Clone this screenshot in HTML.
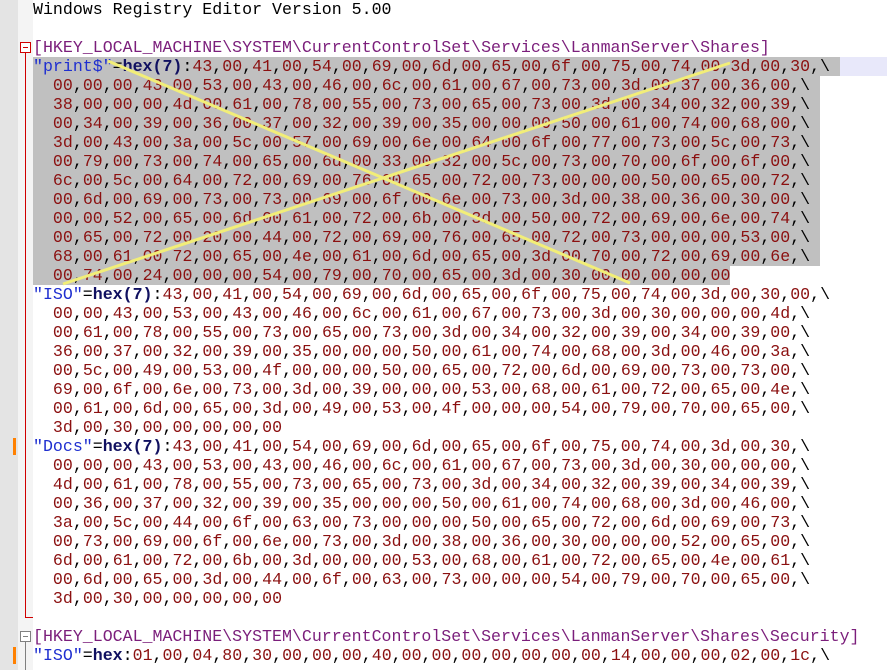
<!DOCTYPE html>
<html><head><meta charset="utf-8">
<style>
html,body{margin:0;padding:0;background:#fff;width:887px;height:670px;overflow:hidden;position:relative}
#g1{position:absolute;left:0;top:0;width:18px;height:670px;background:#e4e4e4}
#g2{position:absolute;left:18px;top:0;width:15px;height:670px;background:#f4f4f4}
#ed{position:absolute;left:33px;top:-0.5px;font-family:"Liberation Mono",monospace;font-size:16.6px;line-height:19px;white-space:pre;color:#000}
.l{height:19px;position:relative}
.k{color:#7b1e7b}.s{color:#1f2fd0}.h{color:#101060;font-weight:bold}.n{color:#8b1010}
.sel{background:#c0c0c0}
#cur{position:absolute;left:33px;top:56.5px;width:854px;height:19px;background:#e8e8fa}
.fb{position:absolute;left:20px;width:9px;height:9px;border:1px solid;background:#fff}
.fb:after{content:"";position:absolute;left:2px;top:4px;width:5px;height:1px;background:currentColor}
.or{position:absolute;left:13px;width:3px;height:17px;background:#ff8000}
</style></head><body>
<div id="g1"></div><div id="g2"></div>
<div id="cur"></div>
<div class="fb" style="top:42px;color:#d00000;border-color:#d00000"></div>
<div style="position:absolute;left:25px;top:53px;width:1px;height:565px;background:#d00000"></div>
<div style="position:absolute;left:25px;top:617px;width:8px;height:1px;background:#d00000"></div>
<div class="fb" style="top:631px;color:#808080;border-color:#808080"></div>
<div style="position:absolute;left:25px;top:642px;width:1px;height:28px;background:#808080"></div>
<div class="or" style="top:438px"></div>
<div class="or" style="top:647px"></div>
<div id="ed"></div>
<svg style="position:absolute;left:0;top:0" width="887" height="670">
<line x1="108" y1="61" x2="630" y2="283" stroke="#f2ee78" stroke-width="3"/>
<line x1="63" y1="284" x2="730" y2="63" stroke="#f2ee78" stroke-width="3"/>
</svg>
<script>
var L=[
"Windows Registry Editor Version 5.00","",
"[HKEY_LOCAL_MACHINE\\SYSTEM\\CurrentControlSet\\Services\\LanmanServer\\Shares]",
"\"print$\"=hex(7):43,00,41,00,54,00,69,00,6d,00,65,00,6f,00,75,00,74,00,3d,00,30,\\",
"  00,00,00,43,00,53,00,43,00,46,00,6c,00,61,00,67,00,73,00,3d,00,37,00,36,00,\\",
"  38,00,00,00,4d,00,61,00,78,00,55,00,73,00,65,00,73,00,3d,00,34,00,32,00,39,\\",
"  00,34,00,39,00,36,00,37,00,32,00,39,00,35,00,00,00,50,00,61,00,74,00,68,00,\\",
"  3d,00,43,00,3a,00,5c,00,57,00,69,00,6e,00,64,00,6f,00,77,00,73,00,5c,00,73,\\",
"  00,79,00,73,00,74,00,65,00,6d,00,33,00,32,00,5c,00,73,00,70,00,6f,00,6f,00,\\",
"  6c,00,5c,00,64,00,72,00,69,00,76,00,65,00,72,00,73,00,00,00,50,00,65,00,72,\\",
"  00,6d,00,69,00,73,00,73,00,69,00,6f,00,6e,00,73,00,3d,00,38,00,36,00,30,00,\\",
"  00,00,52,00,65,00,6d,00,61,00,72,00,6b,00,3d,00,50,00,72,00,69,00,6e,00,74,\\",
"  00,65,00,72,00,20,00,44,00,72,00,69,00,76,00,65,00,72,00,73,00,00,00,53,00,\\",
"  68,00,61,00,72,00,65,00,4e,00,61,00,6d,00,65,00,3d,00,70,00,72,00,69,00,6e,\\",
"  00,74,00,24,00,00,00,54,00,79,00,70,00,65,00,3d,00,30,00,00,00,00,00",
"\"ISO\"=hex(7):43,00,41,00,54,00,69,00,6d,00,65,00,6f,00,75,00,74,00,3d,00,30,00,\\",
"  00,00,43,00,53,00,43,00,46,00,6c,00,61,00,67,00,73,00,3d,00,30,00,00,00,4d,\\",
"  00,61,00,78,00,55,00,73,00,65,00,73,00,3d,00,34,00,32,00,39,00,34,00,39,00,\\",
"  36,00,37,00,32,00,39,00,35,00,00,00,50,00,61,00,74,00,68,00,3d,00,46,00,3a,\\",
"  00,5c,00,49,00,53,00,4f,00,00,00,50,00,65,00,72,00,6d,00,69,00,73,00,73,00,\\",
"  69,00,6f,00,6e,00,73,00,3d,00,39,00,00,00,53,00,68,00,61,00,72,00,65,00,4e,\\",
"  00,61,00,6d,00,65,00,3d,00,49,00,53,00,4f,00,00,00,54,00,79,00,70,00,65,00,\\",
"  3d,00,30,00,00,00,00,00",
"\"Docs\"=hex(7):43,00,41,00,54,00,69,00,6d,00,65,00,6f,00,75,00,74,00,3d,00,30,\\",
"  00,00,00,43,00,53,00,43,00,46,00,6c,00,61,00,67,00,73,00,3d,00,30,00,00,00,\\",
"  4d,00,61,00,78,00,55,00,73,00,65,00,73,00,3d,00,34,00,32,00,39,00,34,00,39,\\",
"  00,36,00,37,00,32,00,39,00,35,00,00,00,50,00,61,00,74,00,68,00,3d,00,46,00,\\",
"  3a,00,5c,00,44,00,6f,00,63,00,73,00,00,00,50,00,65,00,72,00,6d,00,69,00,73,\\",
"  00,73,00,69,00,6f,00,6e,00,73,00,3d,00,38,00,36,00,30,00,00,00,52,00,65,00,\\",
"  6d,00,61,00,72,00,6b,00,3d,00,00,00,53,00,68,00,61,00,72,00,65,00,4e,00,61,\\",
"  00,6d,00,65,00,3d,00,44,00,6f,00,63,00,73,00,00,00,54,00,79,00,70,00,65,00,\\",
"  3d,00,30,00,00,00,00,00","",
"[HKEY_LOCAL_MACHINE\\SYSTEM\\CurrentControlSet\\Services\\LanmanServer\\Shares\\Security]",
"\"ISO\"=hex:01,00,04,80,30,00,00,00,40,00,00,00,00,00,00,00,14,00,00,00,02,00,1c,\\"
];
function esc(t){return t.replace(/&/g,"&amp;").replace(/</g,"&lt;")}
function nums(t){return esc(t).replace(/([0-9a-f]{2})/g,'<span class="n">$1</span>')}
function fmt(t,i){
 if(i==0)return esc(t);
 if(t[0]=="[")return '<span class="k">'+esc(t)+'</span>';
 var m=t.match(/^("[^"]*")=(hex(\(7\))?):(.*)$/);
 if(m)return '<span class="s">'+esc(m[1])+'</span>=<span class="h">'+m[2]+'</span>:'+nums(m[4]);
 return nums(t);
}
var h="";
for(var i=0;i<L.length;i++){
 var c=fmt(L[i],i);
 if(i>=3&&i<=14)c='<span class="sel">'+c+(i<14?' ':'')+'</span>';
 h+='<div class="l">'+c+'</div>';
}
document.getElementById("ed").innerHTML=h;
</script>
</body></html>
